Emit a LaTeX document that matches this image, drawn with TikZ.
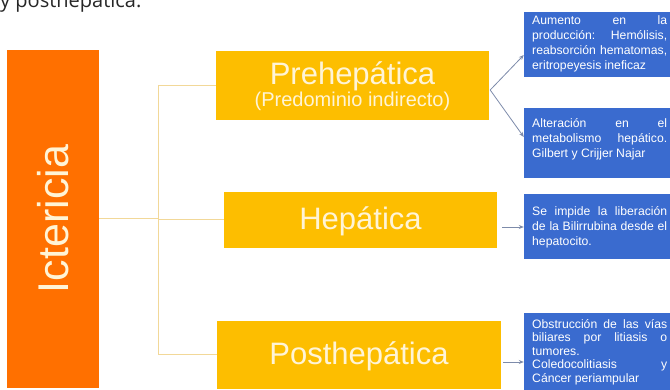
\documentclass[tikz,border=0pt]{standalone}
\usepackage{fontspec}
\setmainfont{Liberation Sans}
\newfontfamily\topfont{Open Sans}
\usetikzlibrary{arrows.meta,calc}
\definecolor{orng}{HTML}{FF7000}
\definecolor{ylw}{HTML}{FDBE00}
\definecolor{blu}{HTML}{3A6BCF}
\definecolor{cream}{HTML}{FFF4D6}
\definecolor{lnk}{HTML}{F2D898}
\definecolor{arw}{HTML}{7D8BAA}
\newcommand\jline[1]{\makebox[135pt][s]{#1}}
\begin{document}
\begin{tikzpicture}[x=1pt,y=-1pt,
  ybox/.style={fill=ylw, draw=none, inner sep=0},
  ytext/.style={text=cream, inner sep=0, anchor=base},
  bbox/.style={fill=blu, draw=none, inner sep=0, minimum width=148},
  btext/.style={text=white, inner sep=0, align=left, anchor=north west, font=\fontsize{12.2}{15}\selectfont},
  conn/.style={draw=lnk, line width=1},
  arr/.style={draw=arw, line width=0.8, -{Stealth[length=5pt,width=4pt]}}]
\useasboundingbox (0,0) rectangle (670,390);
\clip (0,0) rectangle (670,390);

\node[anchor=base west, inner sep=0, font=\topfont\fontsize{20}{22}\selectfont, text=black!85] (toptext) at (0,8) {y posthepática.};

% main box
\node[fill=orng, minimum width=92, minimum height=338, inner sep=0] (ict) at (53,219) {};
\node[rotate=90, text=cream, font=\fontsize{43}{43}\selectfont, inner sep=0] (ictl) at (ict.center) {Ictericia};

% yellow boxes
\node[ybox, minimum width=273, minimum height=69] (pre) at (352.5,85.5) {};
\node[ytext, font=\fontsize{31}{31}\selectfont] (pret) at (352.5,85) {Prehepática};
\node[ytext, font=\fontsize{20}{20}\selectfont] (pres) at (352.5,107) {(Predominio indirecto)};

\node[ybox, minimum width=273, minimum height=56] (hep) at (360.5,220) {};
\node[ytext, font=\fontsize{31}{31}\selectfont] (hept) at (360.5,230) {Hepática};

\node[ybox, minimum width=284, minimum height=68] (post) at (359,355) {};
\node[ytext, font=\fontsize{31}{31}\selectfont] (postt) at (359,365) {Posthepática};

% blue boxes
\node[bbox, minimum height=65] (b1) at (598,44.5) {};
\node[btext] (b1t) at (532,15) {\jline{Aumento en la}\\\jline{producción: Hemólisis,}\\\jline{reabsorción hematomas,}\\eritropeyesis ineficaz};

\node[bbox, minimum height=70] (b2) at (598,143) {};
\node[btext] (b2t) at (532,118) {\jline{Alteración en el}\\\jline{metabolismo hepático.}\\Gilbert y Crijjer Najar};

\node[bbox, minimum height=65] (b3) at (598,226.5) {};
\node[btext] (b3t) at (532,206) {\jline{Se impide la liberación}\\\jline{de la Bilirrubina desde el}\\hepatocito.};

\node[bbox, minimum height=82] (b4) at (598,354) {};
\node[btext, font=\fontsize{12.2}{13.5}\selectfont] (b4t) at (532,319) {\jline{Obstrucción de las vías}\\\jline{biliares por litiasis o}\\tumores.\\\jline{Coledocolitiasis y}\\Cáncer periampular};

% connectors
\coordinate (trunk) at (158,219);
\draw[conn] (ict.east) -- (trunk);
\draw[conn] (trunk) |- (pre.west);
\draw[conn] (trunk) |- (hep.west);
\draw[conn] (trunk) |- (post.west);

% arrows
\coordinate (pa) at ($(pre.east)+(1,4.5)$);
\coordinate (b1in) at ($(b1.west)+(0,10.5)$);
\coordinate (b2in) at ($(b2.west)+(0,-6)$);
\draw[arr] (pa) -- (b1in);
\draw[arr] (pa) -- (b2in);
\coordinate (hout) at ($(hep.east)+(5,7)$);
\draw[arr] (hout) -- (hout -| b3.west);
\coordinate (pout) at ($(post.east)+(2,7)$);
\draw[arr] (pout) -- (pout -| b4.west);
\end{tikzpicture}
\end{document}
